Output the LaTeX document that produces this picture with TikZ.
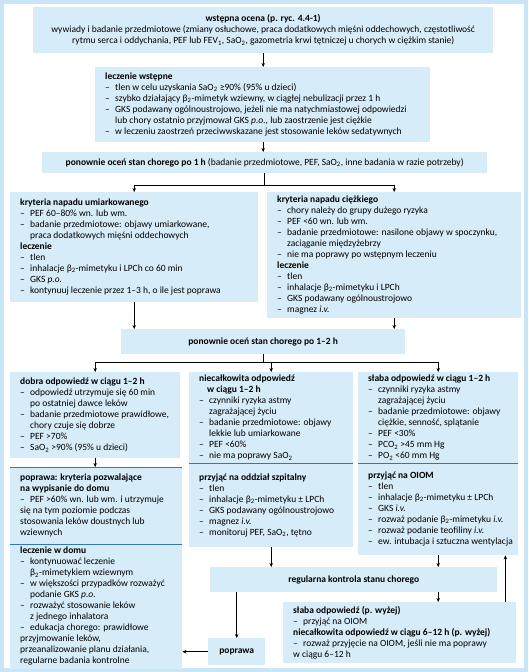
\documentclass[tikz,border=0pt]{standalone}
\usepackage{fontspec}
\setmainfont{Carlito}
\usetikzlibrary{arrows.meta}
\setlength{\parindent}{0pt}
\newcommand{\dashitem}{\par\hangindent=10pt\hangafter=1\makebox[10pt][l]{--}}
\newcommand{\sbs}[1]{\textsubscript{#1}}
\definecolor{boxblue}{RGB}{214,236,248}
\definecolor{frameblue}{RGB}{200,230,246}
\definecolor{ruleblue}{RGB}{50,120,180}

\begin{document}
\begin{tikzpicture}[
  x=1pt, y=-1pt,
  % Node Styles
  lbox/.style={rectangle, fill=boxblue, anchor=north west, align=left, inner xsep=0pt, inner ysep=3pt, font=\fontsize{9.5}{11}\selectfont,
    execute at begin node={\spaceskip=0pt\xspaceskip=0pt\leftskip=8pt\relax}},
  cbox/.style={rectangle, fill=boxblue, anchor=north west, align=flush center, inner xsep=0pt, inner ysep=3pt, font=\fontsize{9.5}{11}\selectfont},
  boxsize/.code 2 args={\pgfmathsetmacro\boxtw{#1-4}\pgfkeysalso{minimum width=#1pt, text width=\boxtw pt, minimum height=#2pt}},
  % Arrow Styles
  solidarrow/.style={-{Stealth[length=4pt,width=3.5pt]}, semithick},
  plainline/.style={semithick},
  ruleline/.style={ruleblue, thick}
]

% frame
\fill[frameblue] (0,0) rectangle (528,672);
\fill[white] (4,4) rectangle (524,668);

% Diagram for: zaostrzenie astmy

\node[cbox, boxsize={460}{46}] (init) at (33,7) {\textbf{wstępna ocena (p. ryc. 4.4-1)}\\
wywiady i badanie przedmiotowe (zmiany osłuchowe, praca dodatkowych mięśni oddechowych, częstotliwość\\
rytmu serca i oddychania, PEF lub FEV\sbs{1}, SaO\sbs{2}, gazometria krwi tętniczej u chorych w ciężkim stanie)};

\node[lbox, boxsize={335}{75}] (prelim) at (95,67) {\textbf{leczenie wstępne}
\dashitem tlen w celu uzyskania SaO\sbs{2} ≥90\% (95\% u dzieci)
\dashitem szybko działający β\sbs{2}-mimetyk wziewny, w ciągłej nebulizacji przez 1 h
\dashitem GKS podawany ogólnoustrojowo, jeżeli nie ma natychmiastowej odpowiedzi\newline lub chory ostatnio przyjmował GKS \textit{p.o.}, lub zaostrzenie jest ciężkie
\dashitem w leczeniu zaostrzeń przeciwwskazane jest stosowanie leków sedatywnych};

\node[cbox, boxsize={445}{21}] (reeval1) at (42,152) {\textbf{ponownie oceń stan chorego po 1 h} (badanie przedmiotowe, PEF, SaO\sbs{2}, inne badania w razie potrzeby)};

\node[lbox, boxsize={248}{110}] (moderate) at (10,192) {\textbf{kryteria napadu umiarkowanego}
\dashitem PEF 60--80\% wn. lub wm.
\dashitem badanie przedmiotowe: objawy umiarkowane,\newline praca dodatkowych mięśni oddechowych
\par\textbf{leczenie}
\dashitem tlen
\dashitem inhalacje β\sbs{2}-mimetyku i LPCh co 60 min
\dashitem GKS \textit{p.o.}
\dashitem kontynuuj leczenie przez 1--3 h, o ile jest poprawa};

\node[lbox, boxsize={254}{126}] (severe) at (267,192) {\textbf{kryteria napadu ciężkiego}
\dashitem chory należy do grupy dużego ryzyka
\dashitem PEF <60 wn. lub wm.
\dashitem badanie przedmiotowe: nasilone objawy w spoczynku,\newline zaciąganie międzyżebrzy
\dashitem nie ma poprawy po wstępnym leczeniu
\par\textbf{leczenie}
\dashitem tlen
\dashitem inhalacje β\sbs{2}-mimetyku i LPCh
\dashitem GKS podawany ogólnoustrojowo
\dashitem magnez \textit{i.v.}};

\node[cbox, boxsize={284}{25}] (reeval2) at (121,329) {\textbf{ponownie oceń stan chorego po 1--2 h}};

\node[lbox, boxsize={170}{86}] (good) at (10,372) {\textbf{dobra odpowiedź w ciągu 1--2 h}
\dashitem odpowiedź utrzymuje się 60 min\newline po ostatniej dawce leków
\dashitem badanie przedmiotowe prawidłowe,\newline chory czuje się dobrze
\dashitem PEF >70\%
\dashitem SaO\sbs{2} >90\% (95\% u dzieci)};

\node[lbox, boxsize={164}{91}] (incomplete) at (189,372) {\hangindent=8pt\hangafter=1\textbf{niecałkowita odpowiedź\newline w ciągu 1--2 h}
\dashitem czynniki ryzyka astmy\newline zagrażającej życiu
\dashitem badanie przedmiotowe: objawy\newline lekkie lub umiarkowane
\dashitem PEF <60\%
\dashitem nie ma poprawy SaO\sbs{2}};

\node[lbox, boxsize={160}{91}] (poor) at (358,372) {\textbf{słaba odpowiedź w ciągu 1--2 h}
\dashitem czynniki ryzyka astmy\newline zagrażającej życiu
\dashitem badanie przedmiotowe: objawy\newline ciężkie, senność, splątanie
\dashitem PEF <30\%
\dashitem PCO\sbs{2} >45 mm Hg
\dashitem PO\sbs{2} <60 mm Hg};

\node[lbox, boxsize={172}{77}] (discharge) at (10,467) {\textbf{poprawa: kryteria pozwalające\newline na wypisanie do domu}
\dashitem PEF >60\% wn. lub wm. i utrzymuje\newline się na tym poziomie podczas\newline stosowania leków doustnych lub\newline wziewnych};

\node[lbox, boxsize={172}{121}] (home) at (10,544) {\textbf{leczenie w domu}
\dashitem kontynuować leczenie\newline β\sbs{2}-mimetykiem wziewnym
\dashitem w większości przypadków rozważyć\newline podanie GKS \textit{p.o.}
\dashitem rozważyć stosowanie leków\newline z jednego inhalatora
\dashitem edukacja chorego: prawidłowe\newline przyjmowanie leków,\newline przeanalizowanie planu działania,\newline regularne badania kontrolne};

\node[lbox, boxsize={164}{84}] (hospital) at (189,463) {\textbf{przyjąć na oddział szpitalny}
\dashitem tlen
\dashitem inhalacje β\sbs{2}-mimetyku ± LPCh
\dashitem GKS podawany ogólnoustrojowo
\dashitem magnez \textit{i.v.}
\dashitem monitoruj PEF, SaO\sbs{2}, tętno};

\node[lbox, boxsize={160}{92}] (icu) at (358,463) {\textbf{przyjąć na OIOM}
\dashitem tlen
\dashitem inhalacje β\sbs{2}-mimetyku ± LPCh
\dashitem GKS \textit{i.v.}
\dashitem rozważ podanie β\sbs{2}-mimetyku \textit{i.v.}
\dashitem rozważ podanie teofiliny \textit{i.v.}
\dashitem ew. intubacja i sztuczna wentylacja};

\node[cbox, boxsize={287}{25}] (monitor) at (210,567) {\textbf{regularna kontrola stanu chorego}};

\node[lbox, boxsize={233}{61}] (poorlater) at (283,602) {\textbf{słaba odpowiedź (p. wyżej)}
\dashitem przyjąć na OIOM
\par\textbf{niecałkowita odpowiedź w ciągu 6--12 h (p. wyżej)}
\dashitem rozważ przyjęcie na OIOM, jeśli nie ma poprawy\newline w ciągu 6--12 h};

\node[cbox, boxsize={57}{27}] (better) at (208,638) {\textbf{poprawa}};

% rules between joined boxes
\draw[ruleline] (hospital.north west) -- (hospital.north east);
\draw[ruleline] (icu.north west) -- (icu.north east);
\draw[ruleline] (discharge.north west) -- (discharge.north east);
\draw[ruleline] (home.north west) -- (home.north east);

% connectors
\coordinate (split1) at (reeval1.south |- 0,185);
\coordinate (split2) at (reeval2.south |- 0,362);

\draw[solidarrow] (init.south) -- (init.south |- prelim.north);
\draw[solidarrow] (prelim.south -| init.south) -- (init.south |- reeval1.north);
\draw[plainline] (reeval1.south) -- (split1);
\draw[solidarrow] (split1) -| (moderate.north);
\draw[solidarrow] (split1) -| (severe.north);
\draw[solidarrow] (moderate.south) -- (moderate.south |- reeval2.north);
\draw[solidarrow] (severe.south) -- (severe.south |- reeval2.north);
\draw[plainline] (reeval2.south) -- (split2);
\draw[solidarrow] (split2) -| (good.north);
\draw[solidarrow] (split2) -| (incomplete.north);
\draw[solidarrow] (split2) -| (poor.north);
\draw[solidarrow] (good.south) -- (good.south |- discharge.north);
\draw[solidarrow] (hospital.south) -- (hospital.south |- monitor.north);
\draw[solidarrow] (icu.south) -- (icu.south |- monitor.north);
\draw[solidarrow] (monitor.south -| icu.south) -- (icu.south |- poorlater.north);
\draw[solidarrow] ([xshift=-11pt]poorlater.north east) -- ([xshift=-11pt]poorlater.north east |- icu.south);
\draw[solidarrow] (monitor.south -| better.north) -- (better.north);
\draw[solidarrow] (better.west) -- (better.west -| home.east);

\end{tikzpicture}
\end{document}
